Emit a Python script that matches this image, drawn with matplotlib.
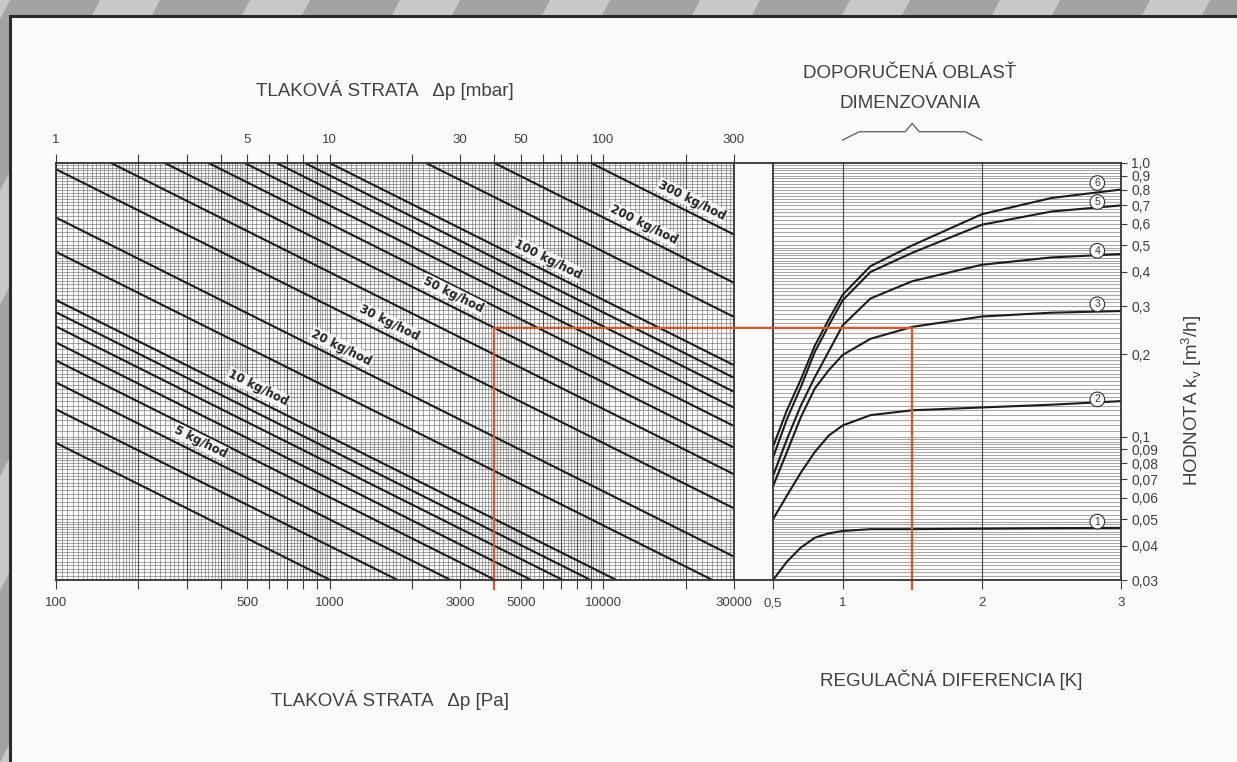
import numpy as np
import matplotlib.pyplot as plt
from matplotlib import font_manager
from matplotlib.lines import Line2D
from matplotlib.patches import Rectangle, Polygon, ConnectionPatch
from matplotlib.ticker import NullLocator, NullFormatter
from matplotlib.transforms import blended_transform_factory

# --- data --------------------------------------------------------------
# mass flow lines [kg/h] with kv read at the left (100 Pa) and right (30000 Pa) edge
flows = [3, 4, 5, 6, 7, 8, 9, 10, 15, 20, 30, 40, 50, 60, 70, 80, 90, 100, 150, 200, 300]
kv_at_100pa = [0.095, 0.126, 0.158, 0.190, 0.221, 0.253, 0.285, 0.316, 0.474, 0.632,
               0.949, 1.26, 1.58, 1.90, 2.21, 2.53, 2.85, 3.16, 4.74, 6.32, 9.49]
kv_at_30000pa = [0.0055, 0.0073, 0.0091, 0.0110, 0.0128, 0.0146, 0.0164, 0.0183, 0.0274, 0.0365,
                 0.0548, 0.0730, 0.0913, 0.1095, 0.1278, 0.146, 0.1643, 0.1826, 0.274, 0.365, 0.548]

flow_labels = [5, 10, 20, 30, 50, 100, 200, 300]
flow_label_dp = [324, 525, 1060, 1580, 2720, 6000, 13460, 20180]

# bottom axis [Pa] and top axis [mbar]
pa_ticks = [100, 500, 1000, 3000, 5000, 10000, 30000]
mbar_ticks = [1, 5, 10, 30, 50, 100, 300]

# right chart: regulation difference [K] vs kv for valve presettings 1..6
dT = [0.5, 0.6, 0.7, 0.8, 0.9, 1.0, 1.2, 1.5, 2.0, 2.5, 3.0]
curve_1 = [0.030, 0.035, 0.0394, 0.0428, 0.0444, 0.0453, 0.046, 0.046, 0.0462, 0.0464, 0.0465]
curve_2 = [0.050, 0.061, 0.074, 0.088, 0.101, 0.110, 0.120, 0.125, 0.128, 0.131, 0.135]
curve_3 = [0.066, 0.088, 0.118, 0.150, 0.175, 0.199, 0.228, 0.252, 0.275, 0.284, 0.288]
curve_4 = [0.072, 0.098, 0.130, 0.165, 0.205, 0.255, 0.320, 0.370, 0.425, 0.452, 0.465]
curve_5 = [0.084, 0.116, 0.152, 0.204, 0.255, 0.315, 0.400, 0.470, 0.595, 0.665, 0.700]
curve_6 = [0.092, 0.125, 0.162, 0.215, 0.268, 0.330, 0.420, 0.500, 0.650, 0.745, 0.800]
curve_marks_kv = [0.049, 0.137, 0.305, 0.478, 0.72, 0.845]

kv_ticks = [1.0, 0.9, 0.8, 0.7, 0.6, 0.5, 0.4, 0.3, 0.2, 0.1, 0.09, 0.08, 0.07, 0.06, 0.05, 0.04, 0.03]
dT_ticks = [0.5, 1, 2, 3]

# worked example (red)
red_dp = 4000
red_kv = 0.25
red_dt = 1.5

# --- fonts ---------------------------------------------------------------
installed = {f.name for f in font_manager.fontManager.ttflist}
narrow = 'Liberation Sans Narrow' if 'Liberation Sans Narrow' in installed else 'Liberation Sans'
plt.rcParams['font.family'] = [narrow, 'DejaVu Sans']

W, H = 1237, 762


def fx(px):
    return px / W


def fy(py):
    return 1 - py / H


def fine_grid(lo, hi):
    vals = []
    for dec in 10.0 ** np.arange(np.floor(np.log10(lo)), np.ceil(np.log10(hi))):
        vals += list(dec * np.arange(1.0, 1.999, 0.05))
        vals += list(dec * np.arange(2.0, 4.999, 0.1))
        vals += list(dec * np.arange(5.0, 9.999, 0.2))
    vals = np.array(vals)
    return vals[(vals > lo * 1.001) & (vals < hi * 0.999)]


def decade_ticks(lo, hi):
    vals = []
    for dec in 10.0 ** np.arange(np.floor(np.log10(lo)), np.ceil(np.log10(hi))):
        vals += list(dec * np.arange(1, 10))
    vals = np.array(vals)
    return vals[(vals >= lo * 0.999) & (vals <= hi * 1.001)]


fig = plt.figure(figsize=(W / 100, H / 100), dpi=100)
fig.patch.set_facecolor('#a3a3a3')

# photo background stripes + white sheet
for x0 in range(-200, 1400, 150):
    fig.add_artist(Polygon([(fx(x0), 1), (fx(x0 + 60), 1), (fx(x0 + 60 - 400), 0), (fx(x0 - 400), 0)],
                           closed=True, transform=fig.transFigure, fc='#c9c9c9', ec='none', zorder=-3))
fig.add_artist(Rectangle((fx(10), -0.01), 1.0, fy(16) + 0.01, transform=fig.transFigure,
                         fc='#fbfbfa', ec='#2a2a2a', lw=2.2, zorder=-2))

top_px, bot_px = 163, 580
axl = fig.add_axes([fx(56), fy(bot_px), (734 - 56) / W, (bot_px - top_px) / H])
axr = fig.add_axes([fx(773), fy(bot_px), (1121 - 773) / W, (bot_px - top_px) / H])

frame_col = '#333333'
grid_col = '#747474'
line_col = '#1c1c1c'
red = '#e5502d'
text_col = '#404040'

# --- left chart ------------------------------------------------------------
axl.set_xscale('log')
axl.set_yscale('log')
axl.set_xlim(100, 30000)
axl.set_ylim(0.03, 1.0)
axl.set_facecolor('#fbfbfa')

gx = fine_grid(100, 30000)
gy = fine_grid(0.03, 1.0)
axl.vlines(gx, 0.03, 1.0, color=grid_col, lw=0.45, zorder=1)
axl.hlines(gy, 100, 30000, color=grid_col, lw=0.45, zorder=1)
axl.vlines(decade_ticks(100, 30000), 0.03, 1.0, color='#4a4a4a', lw=0.7, zorder=1)

for m, k1, k2 in zip(flows, kv_at_100pa, kv_at_30000pa):
    axl.plot([100, 30000], [k1, k2], color=line_col, lw=1.5, zorder=3, solid_capstyle='butt')

for m, dp in zip(flow_labels, flow_label_dp):
    i = flows.index(m)
    t = np.log(dp / 100) / np.log(300)
    kv = np.exp(np.log(kv_at_100pa[i]) + t * (np.log(kv_at_30000pa[i]) - np.log(kv_at_100pa[i])))
    axl.annotate(f'{m} kg/hod', (dp, kv), xytext=(3.5, 7.5), textcoords='offset points',
                 rotation=-26.5, rotation_mode='anchor', ha='center', va='center',
                 fontsize=8.5, fontweight='bold', family='DejaVu Sans', color='#222222', zorder=5,
                 bbox=dict(boxstyle='square,pad=0.08', fc='#fbfbfa', ec='none', alpha=0.85))

axl.set_xticks(pa_ticks, [str(v) for v in pa_ticks])
axl.set_xticks(decade_ticks(100, 30000), minor=True)
axl.xaxis.set_minor_formatter(NullFormatter())
axl.yaxis.set_major_locator(NullLocator())
axl.yaxis.set_minor_locator(NullLocator())
axl.tick_params(axis='x', which='both', direction='out', length=6.5, width=0.8,
                colors=text_col, labelsize=9.5, pad=6)

top = axl.secondary_xaxis('top', functions=(lambda x: x / 100.0, lambda x: x * 100.0))
top.set_xticks(mbar_ticks, [str(v) for v in mbar_ticks])
top.set_xticks(decade_ticks(1, 300), minor=True)
top.xaxis.set_minor_formatter(NullFormatter())
top.tick_params(axis='x', which='both', direction='out', length=6.5, width=0.8,
                colors=text_col, labelsize=9.5, pad=6)
top.spines['top'].set_visible(False)

# --- right chart -----------------------------------------------------------
axr.set_yscale('log')
axr.set_xlim(0.5, 3.0)
axr.set_ylim(0.03, 1.0)
axr.set_facecolor('#fbfbfa')
axr.hlines(gy, 0.5, 3.0, color=grid_col, lw=0.45, zorder=1)
for v in (1, 2):
    axr.axvline(v, color='#4a4a4a', lw=0.8, zorder=1)

for c in (curve_1, curve_2, curve_3, curve_4, curve_5, curve_6):
    axr.plot(dT, c, color=line_col, lw=1.5, zorder=3)

for n, ck in enumerate(curve_marks_kv, start=1):
    axr.text(2.83, ck, str(n), ha='center', va='center', fontsize=7.5, color='#333333', zorder=6,
             bbox=dict(boxstyle='circle,pad=0.22', fc='#fbfbfa', ec='#333333', lw=0.8))

axr.set_xticks(dT_ticks, [str(v).replace('.', ',') for v in dT_ticks])
axr.xaxis.set_minor_locator(NullLocator())
axr.yaxis.tick_right()
axr.set_yticks(kv_ticks, [f'{v:.2f}'.rstrip('0').replace('.', ',') if v < 0.1 else f'{v:.1f}'.replace('.', ',')
                          for v in kv_ticks])
axr.yaxis.set_minor_locator(NullLocator())
axr.yaxis.set_minor_formatter(NullFormatter())
axr.tick_params(axis='x', direction='out', length=6.5, width=0.8, colors=text_col, labelsize=9.5, pad=6)
axr.tick_params(axis='y', which='major', direction='out', length=4.5, width=0.8,
                colors=text_col, labelsize=10, pad=3, left=False, right=True)

for ax in (axl, axr):
    for s in ax.spines.values():
        s.set_color(frame_col)
        s.set_linewidth(1.3)
        s.set_zorder(4)

# frame lines across the gap
for ypx in (top_px, bot_px):
    fig.add_artist(Line2D([fx(734), fx(773)], [fy(ypx), fy(ypx)], transform=fig.transFigure,
                          color=frame_col, lw=1.3))

# recommended area brace (1..2 K)
tr = blended_transform_factory(axr.transData, axr.transAxes)
axr.plot([1.0, 1.12, 1.45, 1.5, 1.55, 1.88, 2.0],
         [1.055, 1.075, 1.075, 1.095, 1.075, 1.075, 1.055],
         transform=tr, color='#666666', lw=1.0, clip_on=False)

# --- worked example (red) ----------------------------------------------------
axl.plot([red_dp, red_dp], [red_kv, 0.0277], color=red, lw=1.6, zorder=4, clip_on=False)
axr.plot([red_dt, red_dt], [red_kv, 0.0277], color=red, lw=1.6, zorder=4, clip_on=False)
fig.add_artist(ConnectionPatch((red_dp, red_kv), (red_dt, red_kv), coordsA=axl.transData,
                               coordsB=axr.transData, color=red, lw=1.6))

# --- texts ---------------------------------------------------------------------
kw = dict(ha='center', va='center', color=text_col, fontsize=13.5)
fig.text(fx(385), fy(90), 'TLAKOVÁ STRATA   Δp [mbar]', **kw)
fig.text(fx(390), fy(700), 'TLAKOVÁ STRATA   Δp [Pa]', **kw)
fig.text(fx(910), fy(73), 'DOPORUČENÁ OBLASŤ', **kw)
fig.text(fx(910), fy(104), 'DIMENZOVANIA', **kw)
fig.text(fx(951), fy(680), 'REGULAČNÁ DIFERENCIA [K]', **kw)
fig.text(fx(1192), fy(400), r'HODNOTA k$_\mathregular{v}$ [m$^\mathregular{3}$/h]', rotation=90, **kw)

fig.savefig('out.png', dpi=100, facecolor=fig.get_facecolor())
